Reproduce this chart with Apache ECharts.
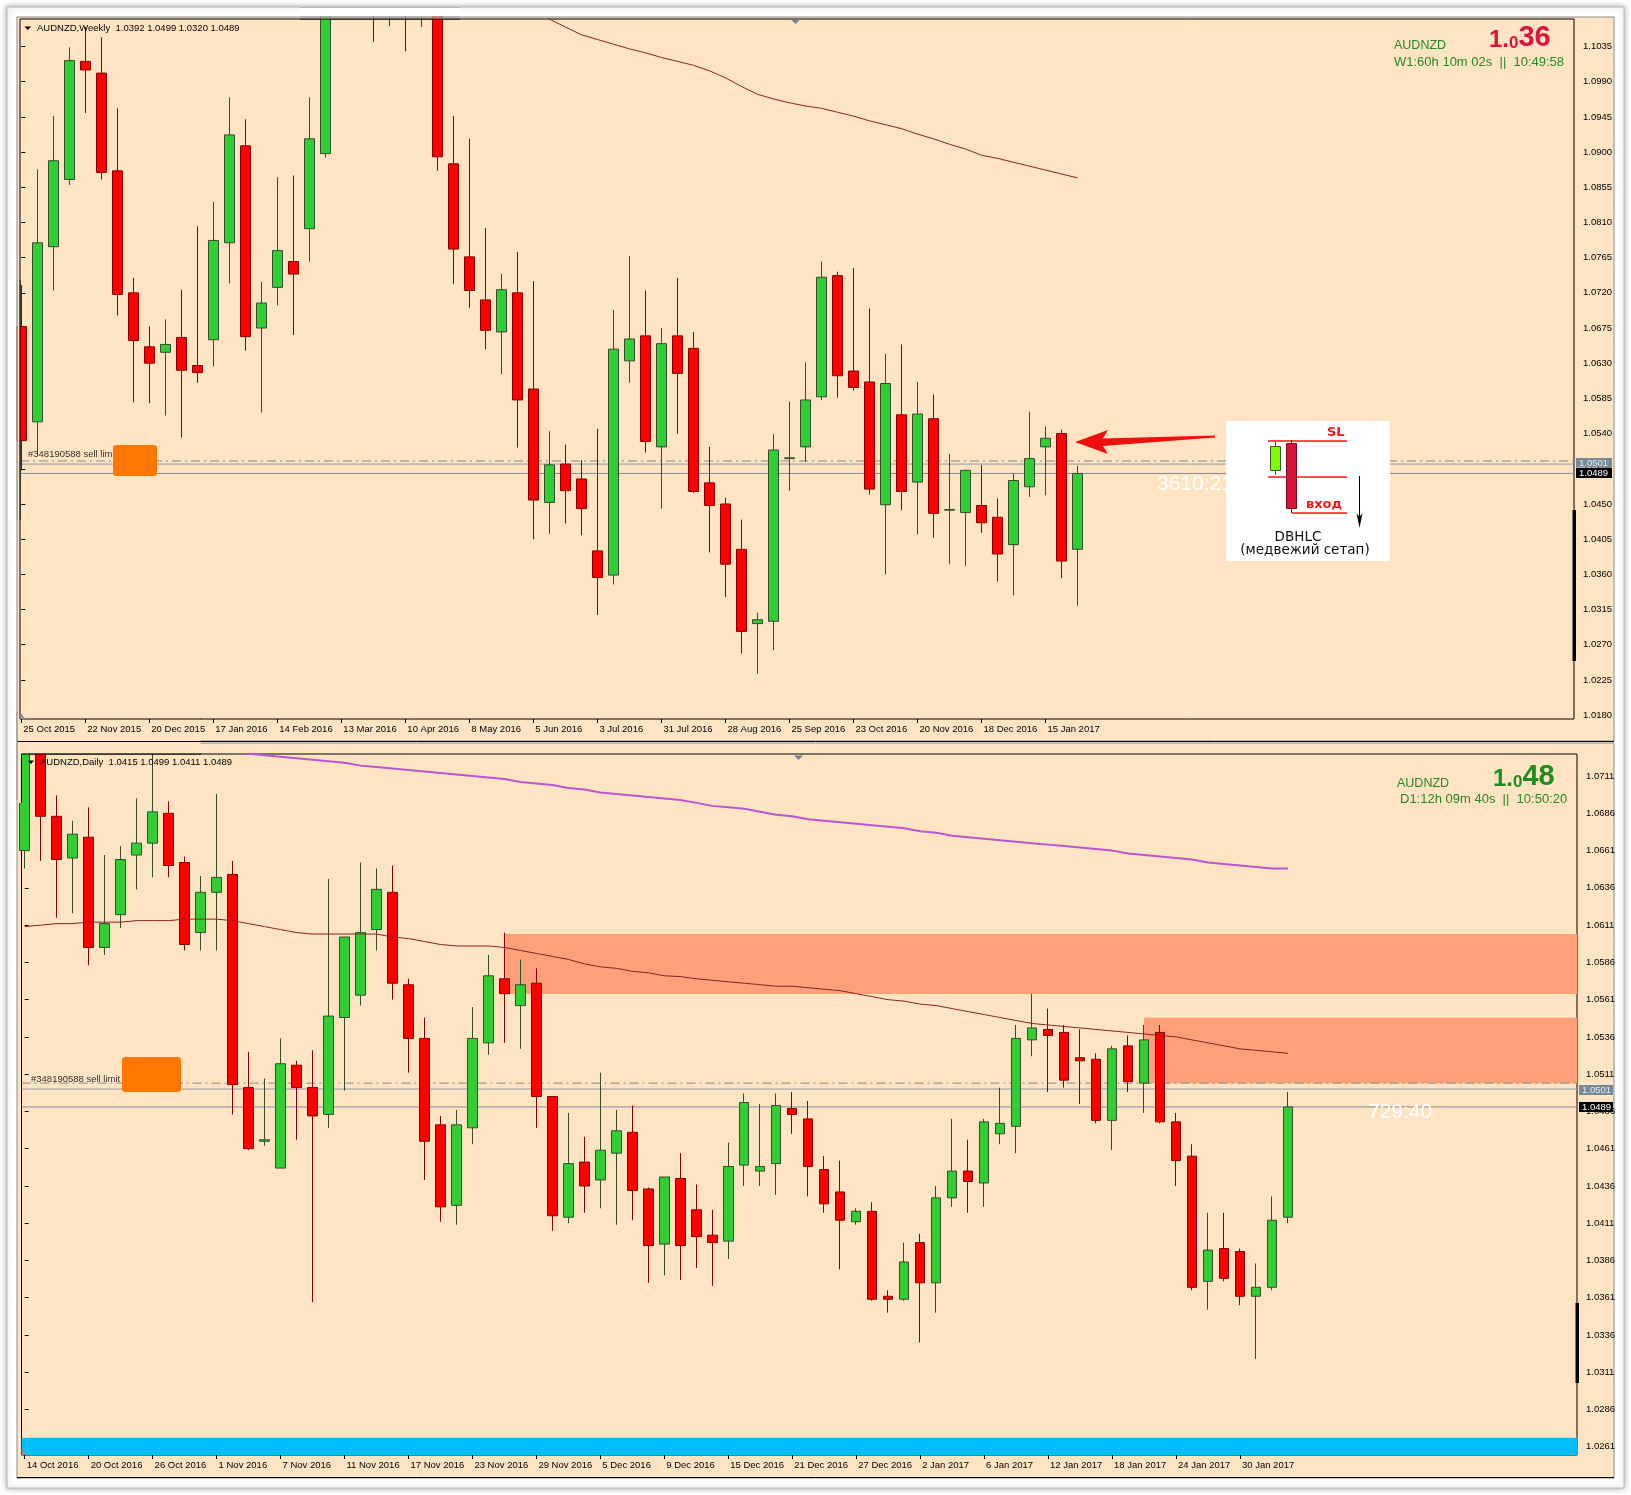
<!DOCTYPE html>
<html><head><meta charset="utf-8">
<script src="https://cdn.jsdelivr.net/npm/echarts/dist/echarts.min.js"></script>
<style>html,body{margin:0;padding:0;background:#fff;}#c{width:1631px;height:1495px;}</style>
</head><body><div id="c"></div>
<script>
// ---------- DATA ----------
const weeklyTickLabels = ['25 Oct 2015','22 Nov 2015','20 Dec 2015','17 Jan 2016','14 Feb 2016','13 Mar 2016','10 Apr 2016','8 May 2016','5 Jun 2016','3 Jul 2016','31 Jul 2016','28 Aug 2016','25 Sep 2016','23 Oct 2016','20 Nov 2016','18 Dec 2016','15 Jan 2017'];
const weeklyPriceTicks = [1.0180,1.0225,1.0270,1.0315,1.0360,1.0405,1.0450,1.0495,1.0540,1.0585,1.0630,1.0675,1.0720,1.0765,1.0810,1.0855,1.0900,1.0945,1.0990,1.1035];
// [open, high, low, close]
const weeklyOHLC = [
[1.0677,1.0730,1.0493,1.0531],[1.0555,1.0878,1.0513,1.0784],[1.0779,1.0946,1.0723,1.0889],[1.0865,1.1034,1.0858,1.1017],
[1.1016,1.1060,1.0950,1.1005],[1.1001,1.1047,1.0865,1.0874],[1.0876,1.0956,1.0691,1.0718],[1.0720,1.0739,1.0580,1.0659],
[1.0651,1.0677,1.0579,1.0630],[1.0644,1.0686,1.0563,1.0654],[1.0663,1.0724,1.0535,1.0621],[1.0627,1.0805,1.0605,1.0618],
[1.0660,1.0836,1.0626,1.0787],[1.0784,1.0970,1.0732,1.0922],[1.0908,1.0942,1.0646,1.0664],[1.0675,1.0734,1.0567,1.0707],
[1.0727,1.0868,1.0704,1.0774],[1.0760,1.0870,1.0666,1.0744],[1.0802,1.0970,1.0760,1.0917],[1.0898,1.1120,1.0893,1.1090],
[1.1090,1.1200,1.1078,1.1150],[1.1150,1.1220,1.1085,1.1130],[1.1130,1.1190,1.1041,1.1110],[1.1110,1.1180,1.1061,1.1120],
[1.1120,1.1200,1.1029,1.1090],[1.1090,1.1150,1.1060,1.1110],[1.1110,1.1130,1.0876,1.0894],[1.0885,1.0946,1.0731,1.0776],
[1.0766,1.0917,1.0701,1.0723],[1.0711,1.0803,1.0648,1.0672],[1.0670,1.0744,1.0616,1.0724],[1.0720,1.0772,1.0522,1.0583],
[1.0597,1.0735,1.0405,1.0455],[1.0452,1.0543,1.0412,1.0500],[1.0501,1.0526,1.0425,1.0467],[1.0482,1.0506,1.0410,1.0444],
[1.0390,1.0546,1.0308,1.0356],[1.0359,1.0698,1.0347,1.0648],[1.0633,1.0767,1.0605,1.0661],[1.0665,1.0723,1.0516,1.0530],
[1.0523,1.0675,1.0444,1.0655],[1.0665,1.0739,1.0540,1.0617],[1.0649,1.0670,1.0464,1.0466],[1.0477,1.0523,1.0388,1.0448],
[1.0450,1.0458,1.0331,1.0373],[1.0392,1.0430,1.0259,1.0287],[1.0297,1.0311,1.0233,1.0302],[1.0300,1.0539,1.0263,1.0519],
[1.0508,1.0581,1.0467,1.0509],[1.0523,1.0631,1.0504,1.0583],[1.0587,1.0760,1.0583,1.0740],[1.0742,1.0747,1.0586,1.0614],
[1.0620,1.0752,1.0595,1.0599],[1.0606,1.0700,1.0462,1.0469],[1.0449,1.0642,1.0360,1.0604],[1.0564,1.0654,1.0442,1.0466],
[1.0478,1.0606,1.0411,1.0565],[1.0559,1.0590,1.0407,1.0438],[1.0442,1.0514,1.0373,1.0443],[1.0439,1.0494,1.0371,1.0493],
[1.0448,1.0500,1.0413,1.0426],[1.0433,1.0457,1.0351,1.0386],[1.0398,1.0489,1.0333,1.0480],[1.0472,1.0568,1.0459,1.0508],
[1.0523,1.0549,1.0461,1.0534],[1.0540,1.0545,1.0355,1.0377],[1.0392,1.0499,1.0320,1.0489]
];
const weeklyMAStart = 32;
const weeklyMA = [1.1082,1.1070,1.1060,1.1050,1.1044,1.1038,1.1032,1.1027,1.1021,1.1016,1.1011,1.1004,1.0995,1.0984,1.0974,1.0968,1.0963,1.0959,1.0956,1.0951,1.0946,1.0940,1.0935,1.0930,1.0923,1.0917,1.0910,1.0904,1.0896,1.0892,1.0887,1.0882,1.0877,1.0872,1.0867];

const dailyTickLabels = ['14 Oct 2016','20 Oct 2016','26 Oct 2016','1 Nov 2016','7 Nov 2016','11 Nov 2016','17 Nov 2016','23 Nov 2016','29 Nov 2016','5 Dec 2016','9 Dec 2016','15 Dec 2016','21 Dec 2016','27 Dec 2016','2 Jan 2017','6 Jan 2017','12 Jan 2017','18 Jan 2017','24 Jan 2017','30 Jan 2017'];
const dailyPriceTicks = [1.0261,1.0286,1.0311,1.0336,1.0361,1.0386,1.0411,1.0436,1.0461,1.0486,1.0511,1.0536,1.0561,1.0586,1.0611,1.0636,1.0661,1.0686,1.0711];
const dailyOHLC = [
[1.0661,1.0748,1.0649,1.0740],[1.0741,1.0747,1.0654,1.0684],[1.0684,1.0698,1.0616,1.0655],[1.0656,1.0681,1.0619,1.0672],
[1.0670,1.0690,1.0584,1.0596],[1.0596,1.0658,1.0591,1.0612],[1.0618,1.0664,1.0609,1.0655],[1.0658,1.0696,1.0635,1.0666],
[1.0666,1.0752,1.0643,1.0687],[1.0686,1.0694,1.0643,1.0651],[1.0653,1.0657,1.0594,1.0598],[1.0606,1.0644,1.0594,1.0633],
[1.0633,1.0699,1.0594,1.0643],[1.0645,1.0654,1.0484,1.0504],[1.0502,1.0526,1.0460,1.0461],[1.0466,1.0508,1.0463,1.0467],
[1.0448,1.0535,1.0448,1.0518],[1.0517,1.0520,1.0467,1.0502],[1.0502,1.0527,1.0358,1.0483],[1.0484,1.0642,1.0475,1.0550],
[1.0549,1.0603,1.0500,1.0603],[1.0564,1.0653,1.0557,1.0606],[1.0608,1.0649,1.0594,1.0635],[1.0633,1.0651,1.0561,1.0572],
[1.0571,1.0575,1.0512,1.0535],[1.0535,1.0549,1.0440,1.0466],[1.0477,1.0483,1.0412,1.0422],[1.0423,1.0487,1.0410,1.0477],
[1.0475,1.0556,1.0464,1.0535],[1.0532,1.0591,1.0524,1.0577],[1.0575,1.0606,1.0532,1.0565],[1.0557,1.0588,1.0528,1.0571],
[1.0572,1.0582,1.0475,1.0496],[1.0496,1.0496,1.0406,1.0416],[1.0415,1.0485,1.0411,1.0451],[1.0452,1.0469,1.0418,1.0436],
[1.0440,1.0512,1.0421,1.0460],[1.0458,1.0487,1.0410,1.0473],[1.0472,1.0490,1.0413,1.0433],[1.0434,1.0435,1.0371,1.0396],
[1.0397,1.0442,1.0376,1.0442],[1.0441,1.0458,1.0373,1.0396],[1.0420,1.0437,1.0381,1.0402],[1.0403,1.0420,1.0369,1.0398],
[1.0399,1.0465,1.0387,1.0449],[1.0450,1.0498,1.0436,1.0492],[1.0446,1.0491,1.0436,1.0449],[1.0451,1.0498,1.0430,1.0490],
[1.0488,1.0499,1.0471,1.0484],[1.0481,1.0493,1.0429,1.0449],[1.0447,1.0456,1.0418,1.0424],[1.0432,1.0453,1.0380,1.0413],
[1.0412,1.0421,1.0410,1.0419],[1.0419,1.0425,1.0359,1.0360],[1.0362,1.0366,1.0351,1.0360],[1.0360,1.0398,1.0359,1.0385],
[1.0398,1.0404,1.0331,1.0371],[1.0371,1.0436,1.0351,1.0428],[1.0428,1.0481,1.0422,1.0446],[1.0446,1.0467,1.0418,1.0439],
[1.0438,1.0481,1.0422,1.0479],[1.0471,1.0502,1.0464,1.0478],[1.0476,1.0544,1.0458,1.0535],[1.0534,1.0565,1.0523,1.0542],
[1.0541,1.0555,1.0499,1.0537],[1.0539,1.0544,1.0502,1.0507],[1.0522,1.0541,1.0491,1.0520],[1.0521,1.0525,1.0478,1.0480],
[1.0480,1.0530,1.0460,1.0528],[1.0530,1.0537,1.0499,1.0506],[1.0505,1.0544,1.0485,1.0534],[1.0539,1.0544,1.0478,1.0479],
[1.0479,1.0485,1.0436,1.0453],[1.0456,1.0464,1.0366,1.0368],[1.0372,1.0418,1.0353,1.0393],[1.0394,1.0418,1.0372,1.0374],
[1.0392,1.0394,1.0356,1.0362],[1.0362,1.0384,1.0320,1.0368],[1.0368,1.0429,1.0366,1.0413],[1.0415,1.0499,1.0411,1.0489]
];
const dailyMA = [1.0610,1.0611,1.0612,1.0612,1.0613,1.0613,1.0613,1.0614,1.0614,1.0614,1.0615,1.0615,1.0615,1.0614,1.0612,1.0610,1.0608,1.0606,1.0605,1.0605,
1.0605,1.0605,1.0605,1.0603,1.0602,1.0600,1.0598,1.0597,1.0597,1.0597,1.0596,1.0594,1.0592,1.0590,1.0588,1.0585,1.0583,1.0582,1.0580,1.0579,
1.0577,1.05765,1.0575,1.0574,1.0573,1.0572,1.0571,1.0570,1.0570,1.0569,1.0568,1.0567,1.0565,1.0563,1.0561,1.0560,1.0558,1.0557,1.0555,1.0553,
1.0551,1.0549,1.0547,1.0545,1.0544,1.0543,1.0542,1.0541,1.0540,1.0539,1.0538,1.0537,1.0536,1.0534,1.0532,1.0530,1.0528,1.0527,1.0526,1.0525];
const dailyLongMAStart = 13;
const dailyLongMA = [1.0728,1.0726,1.0725,1.0724,1.0723,1.0722,1.0721,1.0720,1.0718,1.0717,1.0716,1.0715,1.0714,1.0713,1.0712,1.0711,1.0710,1.0709,1.0707,1.0706,
1.0705,1.0703,1.0702,1.0700,1.0699,1.0698,1.0697,1.0696,1.0695,1.0693,1.0691,1.0690,1.0689,1.0687,1.0685,1.0684,1.0682,1.0681,1.0680,1.0679,
1.0678,1.0677,1.0676,1.0674,1.0673,1.0671,1.0670,1.0669,1.0668,1.0667,1.0666,1.0665,1.0664,1.0663,1.0662,1.0661,1.0659,1.0658,1.0657,1.0656,
1.0655,1.0653,1.0652,1.0651,1.0650,1.0649,1.0649];
const zoneUpper = [1.05648, 1.06050];
const zoneLower = [1.05049, 1.05488];
const zoneUpperStart = 30, zoneLowerStart = 70;
const cyanZone = [1.0200, 1.02671];
const sellLimit = 1.0505, askPrice = 1.0501, bidPrice = 1.0489;

// ---------- BUILD ----------
const FONT = 'Liberation Sans, Arial, sans-serif';
const BEIGE = '#FFE4C4';
const toCandle = rows => rows.map((r, i) => [i, r[0], r[3], r[2], r[1]]);
const withStart = (arr, s) => arr.map((v, i) => [s + i, v]);
const idx4 = n => Array.from({length: n}, (_, k) => k * 4);
const X0 = [-0.081, -0.2], X1 = [97.03, 97.08];

const chart = echarts.init(document.getElementById('c'), null, {width: 1631, height: 1495});
const candleStyle = {color: '#32CD32', color0: '#FF0000', borderColor: '#2F4F2F', borderColor0: '#8B0000', borderWidth: 1};

function hLine(g, v, type, color) {
  return {type: 'line', xAxisIndex: g, yAxisIndex: g, data: [[X0[g], v], [X1[g], v]], showSymbol: false, silent: true, z: 1,
    lineStyle: {type, color, width: 1}};
}
function priceLineSeries(g) {
  return [hLine(g, sellLimit, [9, 4, 2, 4], '#7d8a96'), hLine(g, askPrice, 'solid', '#8d99a5'), hLine(g, bidPrice, 'solid', '#7f8c98')];
}
const xAxisCommon = (labels) => ({
  type: 'value', splitLine: {show: false}, axisLine: {show: false},
  axisTick: {show: true, customValues: idx4(labels.length), length: 4, lineStyle: {color: '#000'}},
  axisLabel: {customValues: idx4(labels.length), formatter: v => labels[Math.round(v / 4)] || '',
    align: 'left', fontSize: 9.5, fontFamily: FONT, color: '#000', margin: 5, padding: [0, 0, 0, 2]}
});
const yAxisCommon = (ticks) => ({
  type: 'value', position: 'right', scale: true, splitLine: {show: false}, axisLine: {show: false},
  axisTick: {show: true, customValues: ticks, length: 4, lineStyle: {color: '#000'}},
  axisLabel: {customValues: ticks, formatter: v => v.toFixed(4), fontSize: 9.5, fontFamily: FONT, color: '#000', margin: 9}
});

const txt = (x, y, text, font, fill, extra) => Object.assign({type: 'text', x, y, z: 60,
  style: {text, font, fill, align: 'left', verticalAlign: 'middle'}}, extra || {});
const rect = (x, y, w, h, fill, z) => ({type: 'rect', z: z || 50, shape: {x, y, width: w, height: h}, style: {fill}});
const ln = (x1, y1, x2, y2, stroke, z) => ({type: 'line', z: z || 51, shape: {x1, y1, x2, y2}, style: {stroke, lineWidth: 1}});
const shadowFill = {type: 'linear', x: 0, y: 0, x2: 0, y2: 1, colorStops: [{offset: 0, color: '#ffffff'}, {offset: 0.55, color: '#f0f0f0'}, {offset: 1, color: '#c4c4c4'}]};

const graphics = [
  {type: 'rect', z: -100, shape: {x: 7, y: 7, width: 1617, height: 1481}, style: {fill: '#fff', stroke: '#b8b8b8', lineWidth: 1, shadowBlur: 6, shadowColor: 'rgba(0,0,0,0.35)'}},
  {type: 'rect', z: -90, shape: {x: 17, y: 17, width: 1597, height: 724}, style: {fill: BEIGE, stroke: '#8a8a8a', lineWidth: 1}},
  {type: 'rect', z: -90, shape: {x: 17, y: 743, width: 1597, height: 735}, style: {fill: BEIGE, stroke: '#8a8a8a', lineWidth: 1}},
  {type: 'line', z: -80, shape: {x1: 17, y1: 741.5, x2: 1614, y2: 741.5}, style: {stroke: '#000', lineWidth: 1}},
  {type: 'line', z: -80, shape: {x1: 17, y1: 1477.5, x2: 1614, y2: 1477.5}, style: {stroke: '#000', lineWidth: 1}},
  // covers: keep candles inside their plot areas
  {type: 'rect', z: 50, shape: {x: 300, y: 0, width: 160, height: 7}, style: {fill: shadowFill}},
  rect(300, 7, 160, 9.6, '#fff'), ln(300, 7.5, 460, 7.5, '#b8b8b8'),
  rect(300, 17.5, 160, 1.2, BEIGE), ln(300, 17, 460, 17, '#8a8a8a'), ln(300, 19, 460, 19, '#000'),
  rect(8, 280, 8.6, 240, '#fff'), rect(17.5, 280, 2.1, 240, BEIGE), ln(17, 280, 17, 520, '#8a8a8a'), ln(20, 280, 20, 520, '#000'),
  rect(17.5, 712, 183, 29, BEIGE), ln(17, 741.5, 201, 741.5, '#000'), rect(17.5, 742, 183, 11.6, BEIGE),
  ln(20, 712, 20, 719, '#000'), ln(20, 719, 201, 719, '#000'), ln(17, 712, 17, 800, '#8a8a8a'),
  rect(17.5, 753, 3.6, 50, BEIGE), ln(21.5, 754, 21.5, 803, '#000'), ln(21.5, 754, 201, 754, '#000'),
  // corner markers
  {type: 'polygon', z: 60, shape: {points: [[20.5, 712], [20.5, 719], [25, 719]]}, style: {fill: '#8a97a3'}},
  {type: 'polygon', z: 60, shape: {points: [[22, 1448], [22, 1455], [26.5, 1455]]}, style: {fill: '#8a97a3'}},
  // headers
  {type: 'polygon', z: 60, shape: {points: [[24.5, 26.5], [31, 26.5], [27.75, 30]]}, style: {fill: '#000'}},
  txt(37, 28.5, 'AUDNZD,Weekly  1.0392 1.0499 1.0320 1.0489', '9.5px ' + FONT, '#000'),
  {type: 'polygon', z: 60, shape: {points: [[28, 760.5], [34, 760.5], [31, 764]]}, style: {fill: '#000'}},
  txt(40, 762.5, 'AUDNZD,Daily  1.0415 1.0499 1.0411 1.0489', '9.5px ' + FONT, '#000'),
  // top-right info
  txt(1394, 45.5, 'AUDNZD', '12.5px ' + FONT, '#228B22'),
  txt(1394, 62.5, 'W1:60h 10m 02s  ||  10:49:58', '13px ' + FONT, '#228B22'),
  {type: 'text', x: 1489, y: 52, z: 60, style: {text: '{a|1.}{b|0}{c|36}', align: 'left', verticalAlign: 'bottom',
    rich: {a: {font: 'bold 24px ' + FONT, fill: '#DC143C', verticalAlign: 'bottom'}, b: {font: 'bold 17px ' + FONT, fill: '#DC143C', verticalAlign: 'bottom'}, c: {font: 'bold 29px ' + FONT, fill: '#DC143C', verticalAlign: 'bottom'}}}},
  txt(1397, 784, 'AUDNZD', '12.5px ' + FONT, '#228B22'),
  txt(1400, 799, 'D1:12h 09m 40s  ||  10:50:20', '13px ' + FONT, '#228B22'),
  {type: 'text', x: 1493, y: 791, z: 60, style: {text: '{a|1.}{b|0}{c|48}', align: 'left', verticalAlign: 'bottom',
    rich: {a: {font: 'bold 24px ' + FONT, fill: '#1E8C1E', verticalAlign: 'bottom'}, b: {font: 'bold 17px ' + FONT, fill: '#1E8C1E', verticalAlign: 'bottom'}, c: {font: 'bold 29px ' + FONT, fill: '#1E8C1E', verticalAlign: 'bottom'}}}},
  // sell limit labels and orange boxes
  txt(28, 454.5, '#348190588 sell limit', '9.5px ' + FONT, '#333'),
  {type: 'rect', z: 61, shape: {x: 113, y: 445, width: 44, height: 31, r: 3}, style: {fill: '#FF7700'}},
  txt(31, 1079, '#348190588 sell limit', '9.5px ' + FONT, '#333'),
  {type: 'rect', z: 61, shape: {x: 122, y: 1057, width: 59, height: 35, r: 3}, style: {fill: '#FF7700'}},
  // timer texts
  txt(1157, 484, '3610:21', '21px ' + FONT, '#ffffff'),
  txt(1368, 1112, '729:40', '21px ' + FONT, '#ffffff'),
  // small markers
  {type: 'polygon', z: 60, shape: {points: [[791, 19.5], [800, 19.5], [795.5, 24]]}, style: {fill: '#708090'}},
  {type: 'polygon', z: 60, shape: {points: [[794, 755.5], [803, 755.5], [798.5, 760]]}, style: {fill: '#708090'}},
  {type: 'rect', z: 60, shape: {x: 1572.5, y: 510, width: 3.5, height: 151}, style: {fill: '#000'}},
  {type: 'rect', z: 60, shape: {x: 1575.5, y: 1303, width: 3.5, height: 80}, style: {fill: '#000'}},
  // price boxes
  {type: 'rect', z: 62, shape: {x: 1576, y: 458, width: 36, height: 9.5}, style: {fill: '#778899'}},
  txt(1579, 463, '1.0501', '9.5px ' + FONT, '#e8eef4', {z: 63}),
  {type: 'rect', z: 62, shape: {x: 1576, y: 468, width: 36, height: 10}, style: {fill: '#000'}},
  txt(1579, 473, '1.0489', '9.5px ' + FONT, '#fff', {z: 63}),
  {type: 'rect', z: 62, shape: {x: 1579, y: 1085, width: 34, height: 10}, style: {fill: '#778899'}},
  txt(1582, 1090, '1.0501', '9.5px ' + FONT, '#e8eef4', {z: 63}),
  {type: 'rect', z: 62, shape: {x: 1579, y: 1102, width: 34, height: 10}, style: {fill: '#000'}},
  txt(1582, 1107, '1.0489', '9.5px ' + FONT, '#fff', {z: 63}),
  // red arrow
  {type: 'polygon', z: 64, shape: {points: [[1075, 442], [1108, 430], [1103, 438.5], [1215, 435.5], [1215, 437.5], [1103, 446], [1108, 454]]}, style: {fill: '#EE1010'}},
  // inset
  {type: 'rect', z: 70, shape: {x: 1226, y: 421, width: 164, height: 140}, style: {fill: '#ffffff'}},
  {type: 'line', z: 71, shape: {x1: 1268, y1: 441, x2: 1347, y2: 441}, style: {stroke: '#FF1010', lineWidth: 1.6}},
  {type: 'line', z: 71, shape: {x1: 1268, y1: 477, x2: 1347, y2: 477}, style: {stroke: '#FF1010', lineWidth: 1.6}},
  {type: 'line', z: 71, shape: {x1: 1292, y1: 513, x2: 1347, y2: 513}, style: {stroke: '#FF1010', lineWidth: 1.6}},
  {type: 'line', z: 72, shape: {x1: 1275.5, y1: 442, x2: 1275.5, y2: 475}, style: {stroke: '#3a5a2a', lineWidth: 1}},
  {type: 'rect', z: 73, shape: {x: 1270.5, y: 446.5, width: 10, height: 24}, style: {fill: '#7CFC00', stroke: '#3a5a2a', lineWidth: 1}},
  {type: 'line', z: 72, shape: {x1: 1291.5, y1: 440, x2: 1291.5, y2: 513}, style: {stroke: '#5a0a14', lineWidth: 1}},
  {type: 'rect', z: 73, shape: {x: 1286.5, y: 443.5, width: 10, height: 65}, style: {fill: '#DC143C', stroke: '#6b0f1f', lineWidth: 1}},
  txt(1327, 432.5, 'SL', 'bold 13px DejaVu Sans, sans-serif', '#FF1010', {z: 74}),
  txt(1306, 504.5, 'вход', 'bold 13px DejaVu Sans, sans-serif', '#FF1010', {z: 74}),
  {type: 'line', z: 74, shape: {x1: 1359.5, y1: 476, x2: 1359.5, y2: 522}, style: {stroke: '#000', lineWidth: 1}},
  {type: 'polygon', z: 74, shape: {points: [[1356.5, 513], [1359.5, 528], [1362.5, 513], [1359.5, 517]]}, style: {fill: '#000'}},
  {type: 'text', x: 1298, y: 537, z: 74, style: {text: 'DBHLC', font: '13.5px DejaVu Sans, sans-serif', fill: '#111', align: 'center', verticalAlign: 'middle'}},
  {type: 'text', x: 1305, y: 550, z: 74, style: {text: '(медвежий сетап)', font: '13.5px DejaVu Sans, sans-serif', fill: '#111', align: 'center', verticalAlign: 'middle'}}
];

const option = {
  animation: false,
  backgroundColor: '#ffffff',
  grid: [
    {left: 20, top: 19, width: 1554, height: 700, show: true, borderColor: '#000', borderWidth: 1, backgroundColor: 'transparent'},
    {left: 21.5, top: 754, width: 1555.5, height: 701, show: true, borderColor: '#000', borderWidth: 1, backgroundColor: 'transparent'}
  ],
  xAxis: [
    Object.assign(xAxisCommon(weeklyTickLabels), {gridIndex: 0, min: X0[0], max: X1[0], z: 60}),
    Object.assign(xAxisCommon(dailyTickLabels), {gridIndex: 1, min: X0[1], max: X1[1]})
  ],
  yAxis: [
    Object.assign(yAxisCommon(weeklyPriceTicks), {gridIndex: 0, min: 1.01750, max: 1.10702}),
    Object.assign(yAxisCommon(dailyPriceTicks), {gridIndex: 1, min: 1.02555, max: 1.07258})
  ],
  series: [
    ...priceLineSeries(0),
    {type: 'candlestick', xAxisIndex: 0, yAxisIndex: 0, data: toCandle(weeklyOHLC), encode: {x: 0, y: [1, 2, 3, 4]},
      barWidth: 10, itemStyle: candleStyle, silent: true, clip: true, z: 2},
    {type: 'line', xAxisIndex: 0, yAxisIndex: 0, data: withStart(weeklyMA, weeklyMAStart), showSymbol: false, silent: true, z: 4,
      lineStyle: {color: '#8B2323', width: 1}},
    ...priceLineSeries(1),
    {type: 'candlestick', xAxisIndex: 1, yAxisIndex: 1, data: toCandle(dailyOHLC), encode: {x: 0, y: [1, 2, 3, 4]},
      barWidth: 10, itemStyle: candleStyle, silent: true, clip: true, z: 2,
      markArea: {silent: true, data: [
        [{xAxis: zoneUpperStart, yAxis: zoneUpper[0], itemStyle: {color: '#FFA07A', opacity: 1}}, {xAxis: X1[1], yAxis: zoneUpper[1]}],
        [{xAxis: zoneLowerStart, yAxis: zoneLower[0], itemStyle: {color: '#FFA07A', opacity: 1}}, {xAxis: X1[1], yAxis: zoneLower[1]}],
        [{xAxis: X0[1], yAxis: cyanZone[0], itemStyle: {color: '#00BFFF', opacity: 1}}, {xAxis: X1[1], yAxis: cyanZone[1]}]
      ]}},
    {type: 'line', xAxisIndex: 1, yAxisIndex: 1, data: dailyMA.map((v, i) => [i, v]), showSymbol: false, silent: true, z: 4,
      lineStyle: {color: '#8B2323', width: 1}},
    {type: 'line', xAxisIndex: 1, yAxisIndex: 1, data: withStart(dailyLongMA, dailyLongMAStart), showSymbol: false, silent: true, z: 4,
      lineStyle: {color: '#BA55D3', width: 2}}
  ],
  graphic: {elements: graphics}
};
chart.setOption(option);
</script></body></html>
